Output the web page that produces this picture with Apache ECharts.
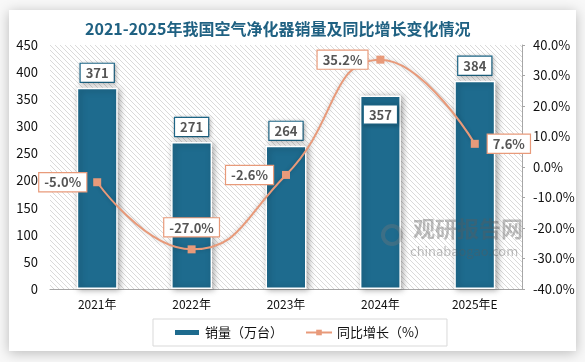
<!DOCTYPE html>
<html><head><meta charset="utf-8">
<script src="https://cdn.jsdelivr.net/npm/echarts@6/dist/echarts.min.js"></script>
<style>html,body{margin:0;padding:0;background:#fff}#c{width:585px;height:362px}</style>
</head><body><div id="c"></div>
<script>
var categories = ['2021年', '2022年', '2023年', '2024年', '2025年E'];
var salesValues = [371, 271, 264, 357, 384];
var growthValues = [-5.0, -27.0, -2.6, 35.2, 7.6];
var growthLabelPos = ['left', 'top', 'left', 'left', 'right'];
var salesLabelInside = [false, false, false, true, false];

var FONT = '"Noto Sans CJK SC", "Noto Sans", sans-serif';
var BAR = '#1e6b8e';
var LINE = '#e89a7a';

var cv = document.createElement('canvas');
cv.width = 5; cv.height = 5;
var cx = cv.getContext('2d');
cx.fillStyle = '#fff'; cx.fillRect(0, 0, 5, 5);
cx.strokeStyle = '#dadada'; cx.lineWidth = 1;
for (var k = -5; k <= 10; k += 5) { cx.beginPath(); cx.moveTo(k, 0); cx.lineTo(k + 5, 5); cx.stroke(); }

var chart = echarts.init(document.getElementById('c'));
var option = {
  backgroundColor: '#f8f8f8',
  animation: false,
  graphic: [
    { type: 'rect', z: -10, shape: { x: 9, y: 10, width: 567, height: 341 },
      style: { fill: '#fff', shadowBlur: 12, shadowColor: 'rgba(0,0,0,0.25)', shadowOffsetX: 0, shadowOffsetY: 2 } },
    { type: 'text', z: 1, left: 85, top: 21,
      style: { text: '2021-2025年我国空气净化器销量及同比增长变化情况', fill: '#1f6182', font: 'bold 16px ' + FONT } },
    { type: 'circle', z: 100, shape: { cx: 392, cy: 235, r: 9 }, style: { fill: 'none', stroke: 'rgba(120,120,120,0.35)', lineWidth: 4 } },
    { type: 'text', z: 100, left: 413, top: 218,
      style: { text: '观研报告网', fill: 'rgba(90,90,90,0.4)', font: 'bold 22px ' + FONT } },
    { type: 'text', z: 100, left: 410, top: 245,
      style: { text: 'chinabaogao.com', fill: 'rgba(90,90,90,0.4)', font: '13px ' + FONT } }
  ],
  grid: { left: 50, right: 63, top: 45, bottom: 73, show: true, borderWidth: 0,
    backgroundColor: { image: cv, repeat: 'repeat' } },
  legend: {
    left: 153, top: 319, padding: [7, 20, 7, 20], borderColor: '#d9d9d9', borderWidth: 1,
    itemWidth: 26, itemHeight: 7, itemGap: 22,
    textStyle: { fontFamily: FONT, fontSize: 13, color: '#111' },
    data: [
      { name: '销量（万台）', icon: 'rect' },
      { name: '同比增长（%）' }
    ]
  },
  xAxis: {
    type: 'category', data: categories,
    axisLine: { lineStyle: { color: '#a6a6a6', width: 1 } },
    axisTick: { show: false },
    axisLabel: { color: '#111', fontFamily: FONT, fontSize: 12, margin: 9 }
  },
  yAxis: [
    { type: 'value', min: 0, max: 450, interval: 50,
      splitLine: { show: false }, axisLine: { show: false }, axisTick: { show: false },
      axisLabel: { color: '#111', fontFamily: FONT, fontSize: 13, margin: 12 } },
    { type: 'value', min: -40, max: 40, interval: 10,
      splitLine: { show: false },
      axisLine: { show: true, lineStyle: { color: '#a6a6a6' } },
      axisTick: { show: true, length: 3, lineStyle: { color: '#a6a6a6' } },
      axisLabel: { color: '#111', fontFamily: FONT, fontSize: 13, margin: 11,
        formatter: function (v) { return v.toFixed(1) + '%'; } } }
  ],
  series: [
    { name: '销量（万台）', type: 'bar', barWidth: 41, z: 2,
      itemStyle: { color: BAR, borderColor: '#fff', borderWidth: 1.5,
        shadowBlur: 6, shadowColor: 'rgba(0,0,0,0.35)', shadowOffsetX: 2, shadowOffsetY: 1 },
      data: salesValues.map(function (v, i) {
        return salesLabelInside[i]
          ? { value: v, label: { position: ['50%', 10], align: 'center', verticalAlign: 'top' } }
          : { value: v, label: { position: 'top', distance: 6 } };
      }),
      label: { show: true, fontFamily: FONT, fontSize: 13, fontWeight: 'bold', color: '#555',
        backgroundColor: '#fff', borderColor: BAR, borderWidth: 1.2, padding: [3, 5, 2, 5],
        shadowBlur: 4, shadowColor: 'rgba(0,0,0,0.25)', shadowOffsetX: 1, shadowOffsetY: 1 }
    },
    { name: '同比增长（%）', type: 'line', yAxisIndex: 1, smooth: 0.5, z: 5,
      symbol: 'rect', symbolSize: 8,
      lineStyle: { color: LINE, width: 2, shadowBlur: 4, shadowColor: 'rgba(0,0,0,0.2)' },
      itemStyle: { color: LINE },
      data: growthValues.map(function (v, i) {
        return { value: v, label: { position: growthLabelPos[i], distance: i === 0 ? 7 : 9 } };
      }),
      label: { show: true, fontFamily: FONT, fontSize: 13, fontWeight: 'bold', color: '#555',
        backgroundColor: '#fff', borderColor: LINE, borderWidth: 1.2, padding: [3, 5, 2, 5],
        formatter: function (p) { return p.value.toFixed(1) + '%'; } }
    }
  ]
};
chart.setOption(option);
</script></body></html>
